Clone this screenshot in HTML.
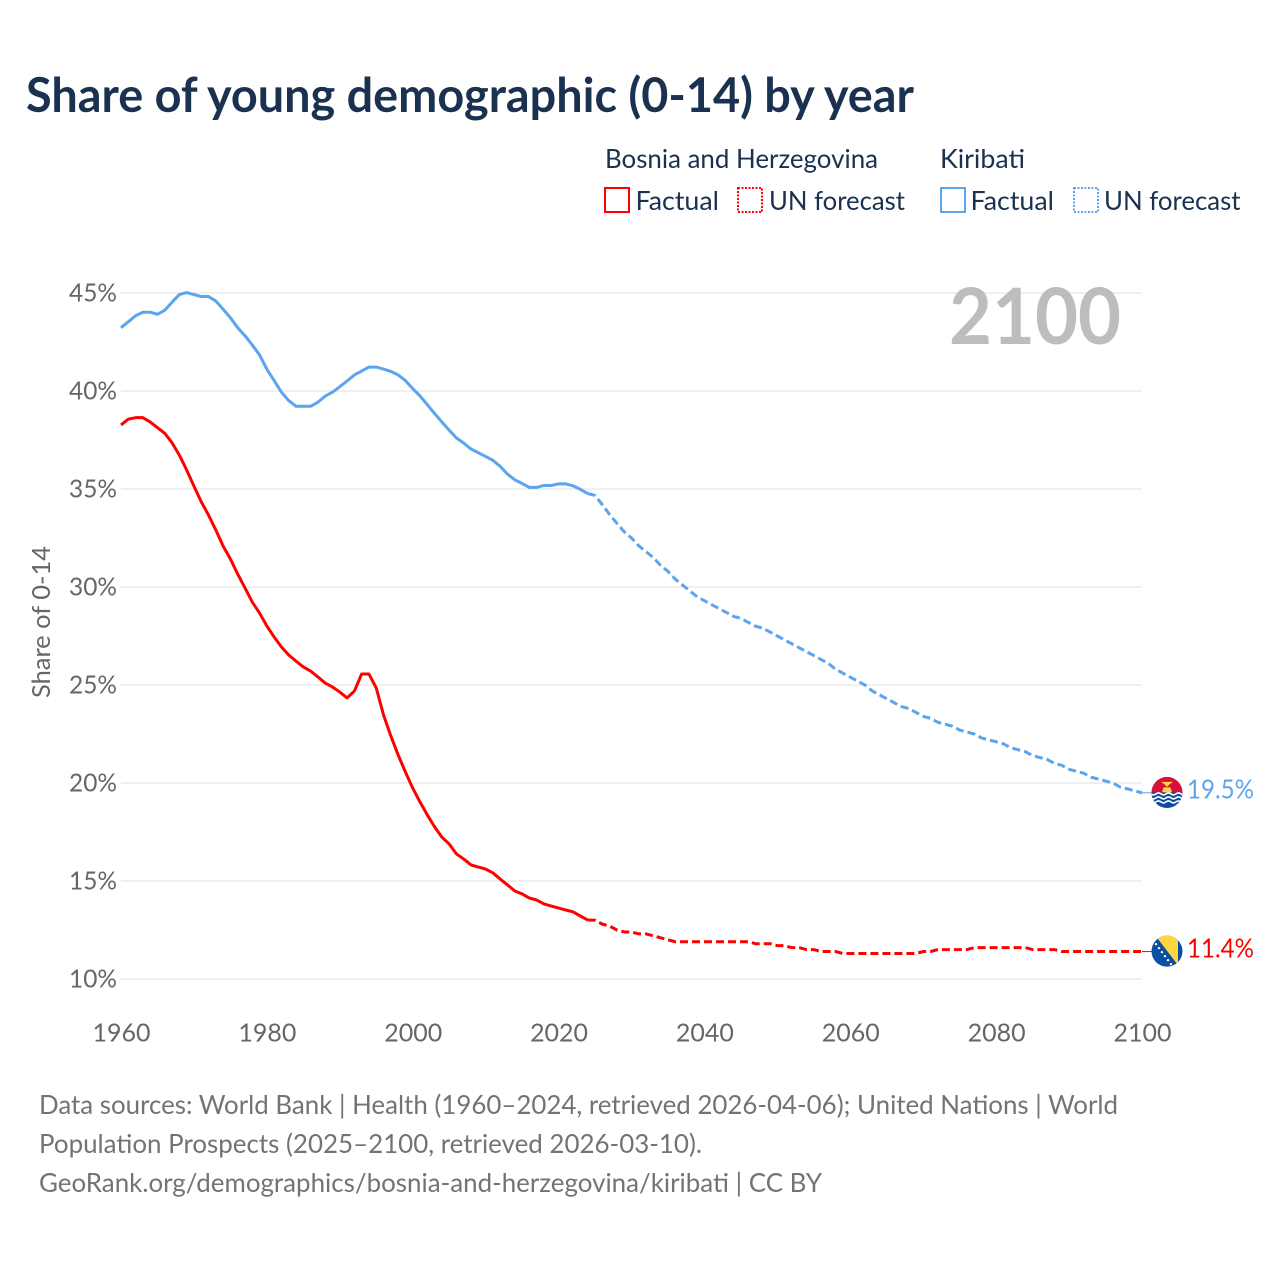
<!DOCTYPE html>
<html lang="en">
<head>
<meta charset="utf-8">
<title>Share of young demographic (0-14) by year</title>
<style>
html,body{margin:0;padding:0;background:#fff;}
svg{display:block;}
text{font-family:"Lato","Liberation Sans",sans-serif;}
</style>
</head>
<body>
<svg id="chart" width="1280" height="1280" viewBox="0 0 1280 1280" xmlns="http://www.w3.org/2000/svg">
  <defs>
    <clipPath id="flag-clip"><circle cx="0" cy="0" r="15.5"/></clipPath>
  </defs>
  <rect x="0" y="0" width="1280" height="1280" fill="#ffffff"/>
  <text x="26" y="112" font-size="47.5" font-weight="700" fill="#1a3150" textLength="888" lengthAdjust="spacingAndGlyphs">Share of young demographic (0-14) by year</text>

  <g font-size="26.5" fill="#1a3150">
    <text x="605" y="168" textLength="273" lengthAdjust="spacingAndGlyphs">Bosnia and Herzegovina</text>
    <text x="940" y="168" textLength="85" lengthAdjust="spacingAndGlyphs">Kiribati</text>
    <rect x="605" y="188" width="24" height="24" fill="none" stroke="#ff0000" stroke-width="2"/>
    <text x="635.5" y="210" textLength="83.5" lengthAdjust="spacingAndGlyphs">Factual</text>
    <rect x="738" y="188" width="24" height="24" fill="none" stroke="#ff0000" stroke-width="2" stroke-dasharray="2 1.5"/>
    <text x="769" y="210" textLength="136" lengthAdjust="spacingAndGlyphs">UN forecast</text>
    <rect x="941" y="188" width="24" height="24" fill="none" stroke="#5ba4ee" stroke-width="2"/>
    <text x="970.5" y="210" textLength="83.5" lengthAdjust="spacingAndGlyphs">Factual</text>
    <rect x="1074" y="188" width="24" height="24" fill="none" stroke="#5ba4ee" stroke-width="2" stroke-dasharray="2 1.5"/>
    <text x="1104" y="210" textLength="136.5" lengthAdjust="spacingAndGlyphs">UN forecast</text>
  </g>

  <g id="grid"></g>
  <g id="yticks"></g>
  <g id="xticks"></g>
  <text transform="translate(50,622) rotate(-90)" text-anchor="middle" font-size="25" fill="#666666" textLength="152" lengthAdjust="spacingAndGlyphs">Share of 0-14</text>
  <text x="949" y="344" font-size="78" font-weight="700" fill="#bdbdbd" textLength="172" lengthAdjust="spacingAndGlyphs">2100</text>

  <g id="series"></g>

  <g id="flag-kiribati">
    <g clip-path="url(#flag-clip)">
      <rect x="-16" y="-16" width="32" height="32" fill="#d80f3a"/>
      <path d="M-3,-1 L3,-1 L5,-0.5 L-5,-0.5 Z M-3.5,-5 L3.5,-5 L5,0 L-5,0 Z" fill="#fcd53f"/>
      <path d="M-6,-10.5 L6,-10.5 L2.5,-8 L0,-5.5 L-2.5,-8 Z" fill="#fcd53f"/>
      <rect x="-16" y="0" width="32" height="16" fill="#0b4ea2"/>
      <path d="M-16,1.5 q2.5,2 5,0 t5,0 t5,0 t5,0 t5,0 t5,0 t5,0" fill="none" stroke="#ffffff" stroke-width="1.6"/>
      <path d="M-16,5.5 q2.5,2 5,0 t5,0 t5,0 t5,0 t5,0 t5,0 t5,0" fill="none" stroke="#ffffff" stroke-width="1.6"/>
      <path d="M-16,9.5 q2.5,2 5,0 t5,0 t5,0 t5,0 t5,0 t5,0 t5,0" fill="none" stroke="#ffffff" stroke-width="1.6"/>
    </g>
  </g>
  <g id="flag-bosnia">
    <g clip-path="url(#flag-clip)">
      <rect x="-16" y="-16" width="32" height="32" fill="#0b4ea2"/>
      <path d="M-12,-16 L11,-16 L11,14 Z" fill="#fcd53f"/>
      <g fill="#ffffff">
        <circle cx="-11" cy="-7" r="1.2"/>
        <circle cx="-8" cy="-3" r="1.2"/>
        <circle cx="-5" cy="1" r="1.2"/>
        <circle cx="-2" cy="5" r="1.2"/>
        <circle cx="1" cy="9" r="1.2"/>
        <circle cx="4" cy="13" r="1.2"/>
      </g>
    </g>
  </g>
  <g id="value-labels"></g>

  <g font-size="26.5" fill="#737373">
    <text x="39" y="1114" textLength="1079" lengthAdjust="spacingAndGlyphs">Data sources: World Bank | Health (1960–2024, retrieved 2026-04-06); United Nations | World</text>
    <text x="39" y="1153" textLength="663" lengthAdjust="spacingAndGlyphs">Population Prospects (2025–2100, retrieved 2026-03-10).</text>
    <text x="39" y="1192" textLength="783" lengthAdjust="spacingAndGlyphs">GeoRank.org/demographics/bosnia-and-herzegovina/kiribati | CC BY</text>
  </g>
</svg>
<script>
const firstYear = 1960;
const lastFactualYear = 2024;
const xTickLabels = [1960, 1980, 2000, 2020, 2040, 2060, 2080, 2100];
const yTickLabels = [10, 15, 20, 25, 30, 35, 40, 45];
const bosniaValues = [
  38.27,38.56,38.64,38.64,38.42,38.13,37.84,37.36,36.73,35.97,
  35.15,34.35,33.67,32.91,32.09,31.43,30.66,29.95,29.23,28.67,
  28.01,27.45,26.94,26.53,26.22,25.92,25.71,25.41,25.10,24.90,
  24.64,24.34,24.69,25.56,25.56,24.85,23.47,22.40,21.43,20.56,
  19.74,19.03,18.37,17.76,17.24,16.89,16.38,16.12,15.82,15.71,
  15.61,15.41,15.10,14.80,14.49,14.34,14.13,14.03,13.83,13.72,
  13.62,13.52,13.42,13.21,13.01,13.0,12.8,12.7,12.5,12.4,
  12.4,12.3,12.3,12.2,12.1,12.0,11.9,11.9,11.9,11.9,
  11.9,11.9,11.9,11.9,11.9,11.9,11.9,11.8,11.8,11.8,
  11.7,11.7,11.6,11.6,11.5,11.5,11.4,11.4,11.4,11.3,
  11.3,11.3,11.3,11.3,11.3,11.3,11.3,11.3,11.3,11.3,
  11.4,11.4,11.5,11.5,11.5,11.5,11.5,11.6,11.6,11.6,
  11.6,11.6,11.6,11.6,11.6,11.5,11.5,11.5,11.5,11.4,
  11.4,11.4,11.4,11.4,11.4,11.4,11.4,11.4,11.4,11.4,11.4
];
const kiribatiValues = [
  43.23,43.53,43.84,44.02,44.02,43.91,44.12,44.53,44.92,45.02,
  44.92,44.82,44.82,44.59,44.17,43.74,43.23,42.82,42.35,41.84,
  41.11,40.53,39.94,39.51,39.22,39.22,39.22,39.43,39.74,39.94,
  40.22,40.51,40.82,41.02,41.22,41.22,41.12,41.0,40.82,40.53,
  40.12,39.75,39.3,38.85,38.42,38.0,37.6,37.34,37.04,36.85,
  36.66,36.46,36.15,35.76,35.47,35.28,35.08,35.08,35.18,35.18,
  35.26,35.26,35.16,34.98,34.77,34.67,34.2,33.7,33.25,32.82,
  32.5,32.1,31.8,31.5,31.1,30.8,30.4,30.1,29.8,29.5,
  29.3,29.1,28.9,28.7,28.5,28.4,28.2,28.0,27.9,27.7,
  27.5,27.3,27.1,26.9,26.7,26.5,26.3,26.1,25.8,25.6,
  25.4,25.2,25.0,24.7,24.5,24.3,24.1,23.9,23.8,23.6,
  23.4,23.3,23.1,23.0,22.9,22.7,22.6,22.5,22.3,22.2,
  22.1,22.0,21.8,21.7,21.6,21.4,21.3,21.2,21.0,20.9,
  20.7,20.6,20.5,20.3,20.2,20.1,20.0,19.8,19.7,19.6,19.5
];

const NS = 'http://www.w3.org/2000/svg';
const plotLeft = 121, plotRight = 1142;
function xScale(year){ return plotLeft + (year - 1960) * (plotRight - plotLeft) / 140; }
function yScale(value){ return 979 - (value - 10) * 19.6; }
function make(tag, attrs, parent){
  const el = document.createElementNS(NS, tag);
  for (const k in attrs) el.setAttribute(k, attrs[k]);
  parent.appendChild(el);
  return el;
}
function pathFor(values, fromYear, toYear){
  let d = '';
  values.forEach(function(v, i){
    const yr = firstYear + i;
    if (yr < fromYear || yr > toYear) return;
    d += (d ? 'L' : 'M') + xScale(yr).toFixed(2) + ',' + yScale(v).toFixed(2);
  });
  return d;
}

const gridG = document.getElementById('grid');
const yG = document.getElementById('yticks');
const xG = document.getElementById('xticks');
const seriesG = document.getElementById('series');
const labelsG = document.getElementById('value-labels');

yTickLabels.forEach(function(t){
  const line = make('line', {x1: plotLeft, x2: plotRight, y1: yScale(t), y2: yScale(t), stroke: '#e7e7e7', 'stroke-width': 1.2}, gridG);
  
  
  const label = make('text', {x: 117, y: yScale(t) + 8.7, 'text-anchor': 'end', 'font-size': 25, fill: '#666666', textLength: 48, lengthAdjust: 'spacingAndGlyphs'}, yG);
  
  
  label.textContent = t + '%';
});
xTickLabels.forEach(function(t){
  const label = make('text', {x: xScale(t) + 0.5, y: 1041.5, 'text-anchor': 'middle', 'font-size': 25, fill: '#666666', textLength: 58, lengthAdjust: 'spacingAndGlyphs'}, xG);
  
  
  label.textContent = t;
});

function drawSeries(values, color, key){
  const lastYear = firstYear + values.length - 1;
  const factual = make('path', {d: pathFor(values, firstYear, lastFactualYear), fill: 'none', stroke: color, 'stroke-width': 3, 'stroke-linejoin': 'round'}, seriesG);
  
  
  const forecast = make('path', {d: pathFor(values, lastFactualYear, lastYear), fill: 'none', stroke: color, 'stroke-width': 3, 'stroke-dasharray': '8 4', 'stroke-linejoin': 'round'}, seriesG);
  
  
  const endV = values[values.length - 1];
  const endY = yScale(endV);
  const leader = make('line', {x1: xScale(lastYear), x2: 1152, y1: endY, y2: endY, stroke: color, 'stroke-width': 1}, seriesG);
  
  
  document.getElementById('flag-' + key).setAttribute('transform', 'translate(1167,' + (endY - 0.4).toFixed(2) + ')');
  const label = make('text', {x: 1187, y: (endY + 5.8).toFixed(2), 'font-size': 26.5, fill: color, textLength: 67, lengthAdjust: 'spacingAndGlyphs'}, labelsG);
  
  
  label.textContent = endV.toFixed(1) + '%';
}
drawSeries(kiribatiValues, '#5ba4ee', 'kiribati');
drawSeries(bosniaValues, '#ff0000', 'bosnia');
</script>
</body>
</html>
